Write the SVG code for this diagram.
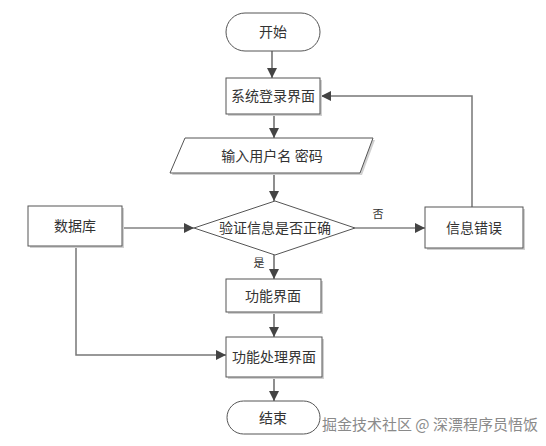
<svg xmlns="http://www.w3.org/2000/svg" width="546" height="446" viewBox="0 0 546 446">
<style>
.shape{fill:#fff;stroke:#555;stroke-width:1}
.shadow{fill:#d0d0d0;stroke:none}
.t{font-family:"Liberation Serif","Noto Sans CJK SC",serif;font-size:14px;fill:#333;text-anchor:middle;dominant-baseline:central}
.s{font-family:"Liberation Serif","Noto Sans CJK SC",serif;font-size:11px;fill:#333;text-anchor:middle;dominant-baseline:central}
.c{fill:none;stroke:#444;stroke-width:1.2}
.c2{fill:none;stroke:#777;stroke-width:1.5}
.wm{font-family:"Noto Sans CJK SC",sans-serif;font-size:15px;fill:#8a8a8a}
</style>
<defs>
<marker id="a" viewBox="0 0 10 10" refX="10" refY="5" markerWidth="10" markerHeight="10" markerUnits="userSpaceOnUse" orient="auto">
<path d="M0,0 L10,5 L0,10 z" fill="#444"/>
</marker>
</defs>
<rect width="546" height="446" fill="#fff"/>
<g id="connectors">
<path class="c" d="M272,51 V78" marker-end="url(#a)"/>
<path class="c" d="M274,114 V138" marker-end="url(#a)"/>
<path class="c" d="M274,173 V201" marker-end="url(#a)"/>
<path class="c" d="M122,228 H194" marker-end="url(#a)"/>
<path class="c" d="M355,228 H425" marker-end="url(#a)"/>
<path class="c2" d="M472,207 V96 H321" marker-end="url(#a)"/>
<path class="c" d="M274,255 V279" marker-end="url(#a)"/>
<path class="c" d="M274,312 V337" marker-end="url(#a)"/>
<path class="c2" d="M76,246 V355 H226" marker-end="url(#a)"/>
<path class="c" d="M274,377 V401" marker-end="url(#a)"/>
<text class="s" x="378" y="214">否</text>
<text class="s" x="259" y="263">是</text>
</g>
<g id="start">
<rect class="shape" x="226" y="13" width="94" height="38" rx="19"/>
<text class="t" x="273" y="32">开始</text>
</g>
<g id="login">
<rect class="shadow" x="228" y="80" width="94" height="36"/>
<rect class="shape" x="226" y="78" width="94" height="36"/>
<text class="t" x="273" y="96">系统登录界面</text>
</g>
<g id="input">
<polygon class="shadow" points="187,140 375,140 362,175 172,175"/>
<polygon class="shape" points="185,138 373,138 360,173 170,173"/>
<text class="t" x="272" y="156">输入用户名 密码</text>
</g>
<g id="verify">
<polygon class="shape" points="275,201 355,228 275,255 194,228"/>
<text class="t" x="275" y="228">验证信息是否正确</text>
</g>
<g id="db">
<rect class="shadow" x="30" y="208" width="94" height="40"/>
<rect class="shape" x="28" y="206" width="94" height="40"/>
<text class="t" x="75" y="226">数据库</text>
</g>
<g id="error">
<rect class="shadow" x="427" y="209" width="98" height="41"/>
<rect class="shape" x="425" y="207" width="98" height="41"/>
<text class="t" x="474" y="228">信息错误</text>
</g>
<g id="func">
<rect class="shadow" x="228" y="281" width="95" height="33"/>
<rect class="shape" x="226" y="279" width="95" height="33"/>
<text class="t" x="273" y="296">功能界面</text>
</g>
<g id="proc">
<rect class="shadow" x="228" y="339" width="96" height="40"/>
<rect class="shape" x="226" y="337" width="96" height="40"/>
<text class="t" x="274" y="357">功能处理界面</text>
</g>
<g id="end">
<rect class="shape" x="227" y="401" width="93" height="33" rx="16.5"/>
<text class="t" x="273" y="418">结束</text>
</g>
<text class="wm" x="322" y="430">掘金技术社区 @ 深漂程序员悟饭</text>
</svg>
